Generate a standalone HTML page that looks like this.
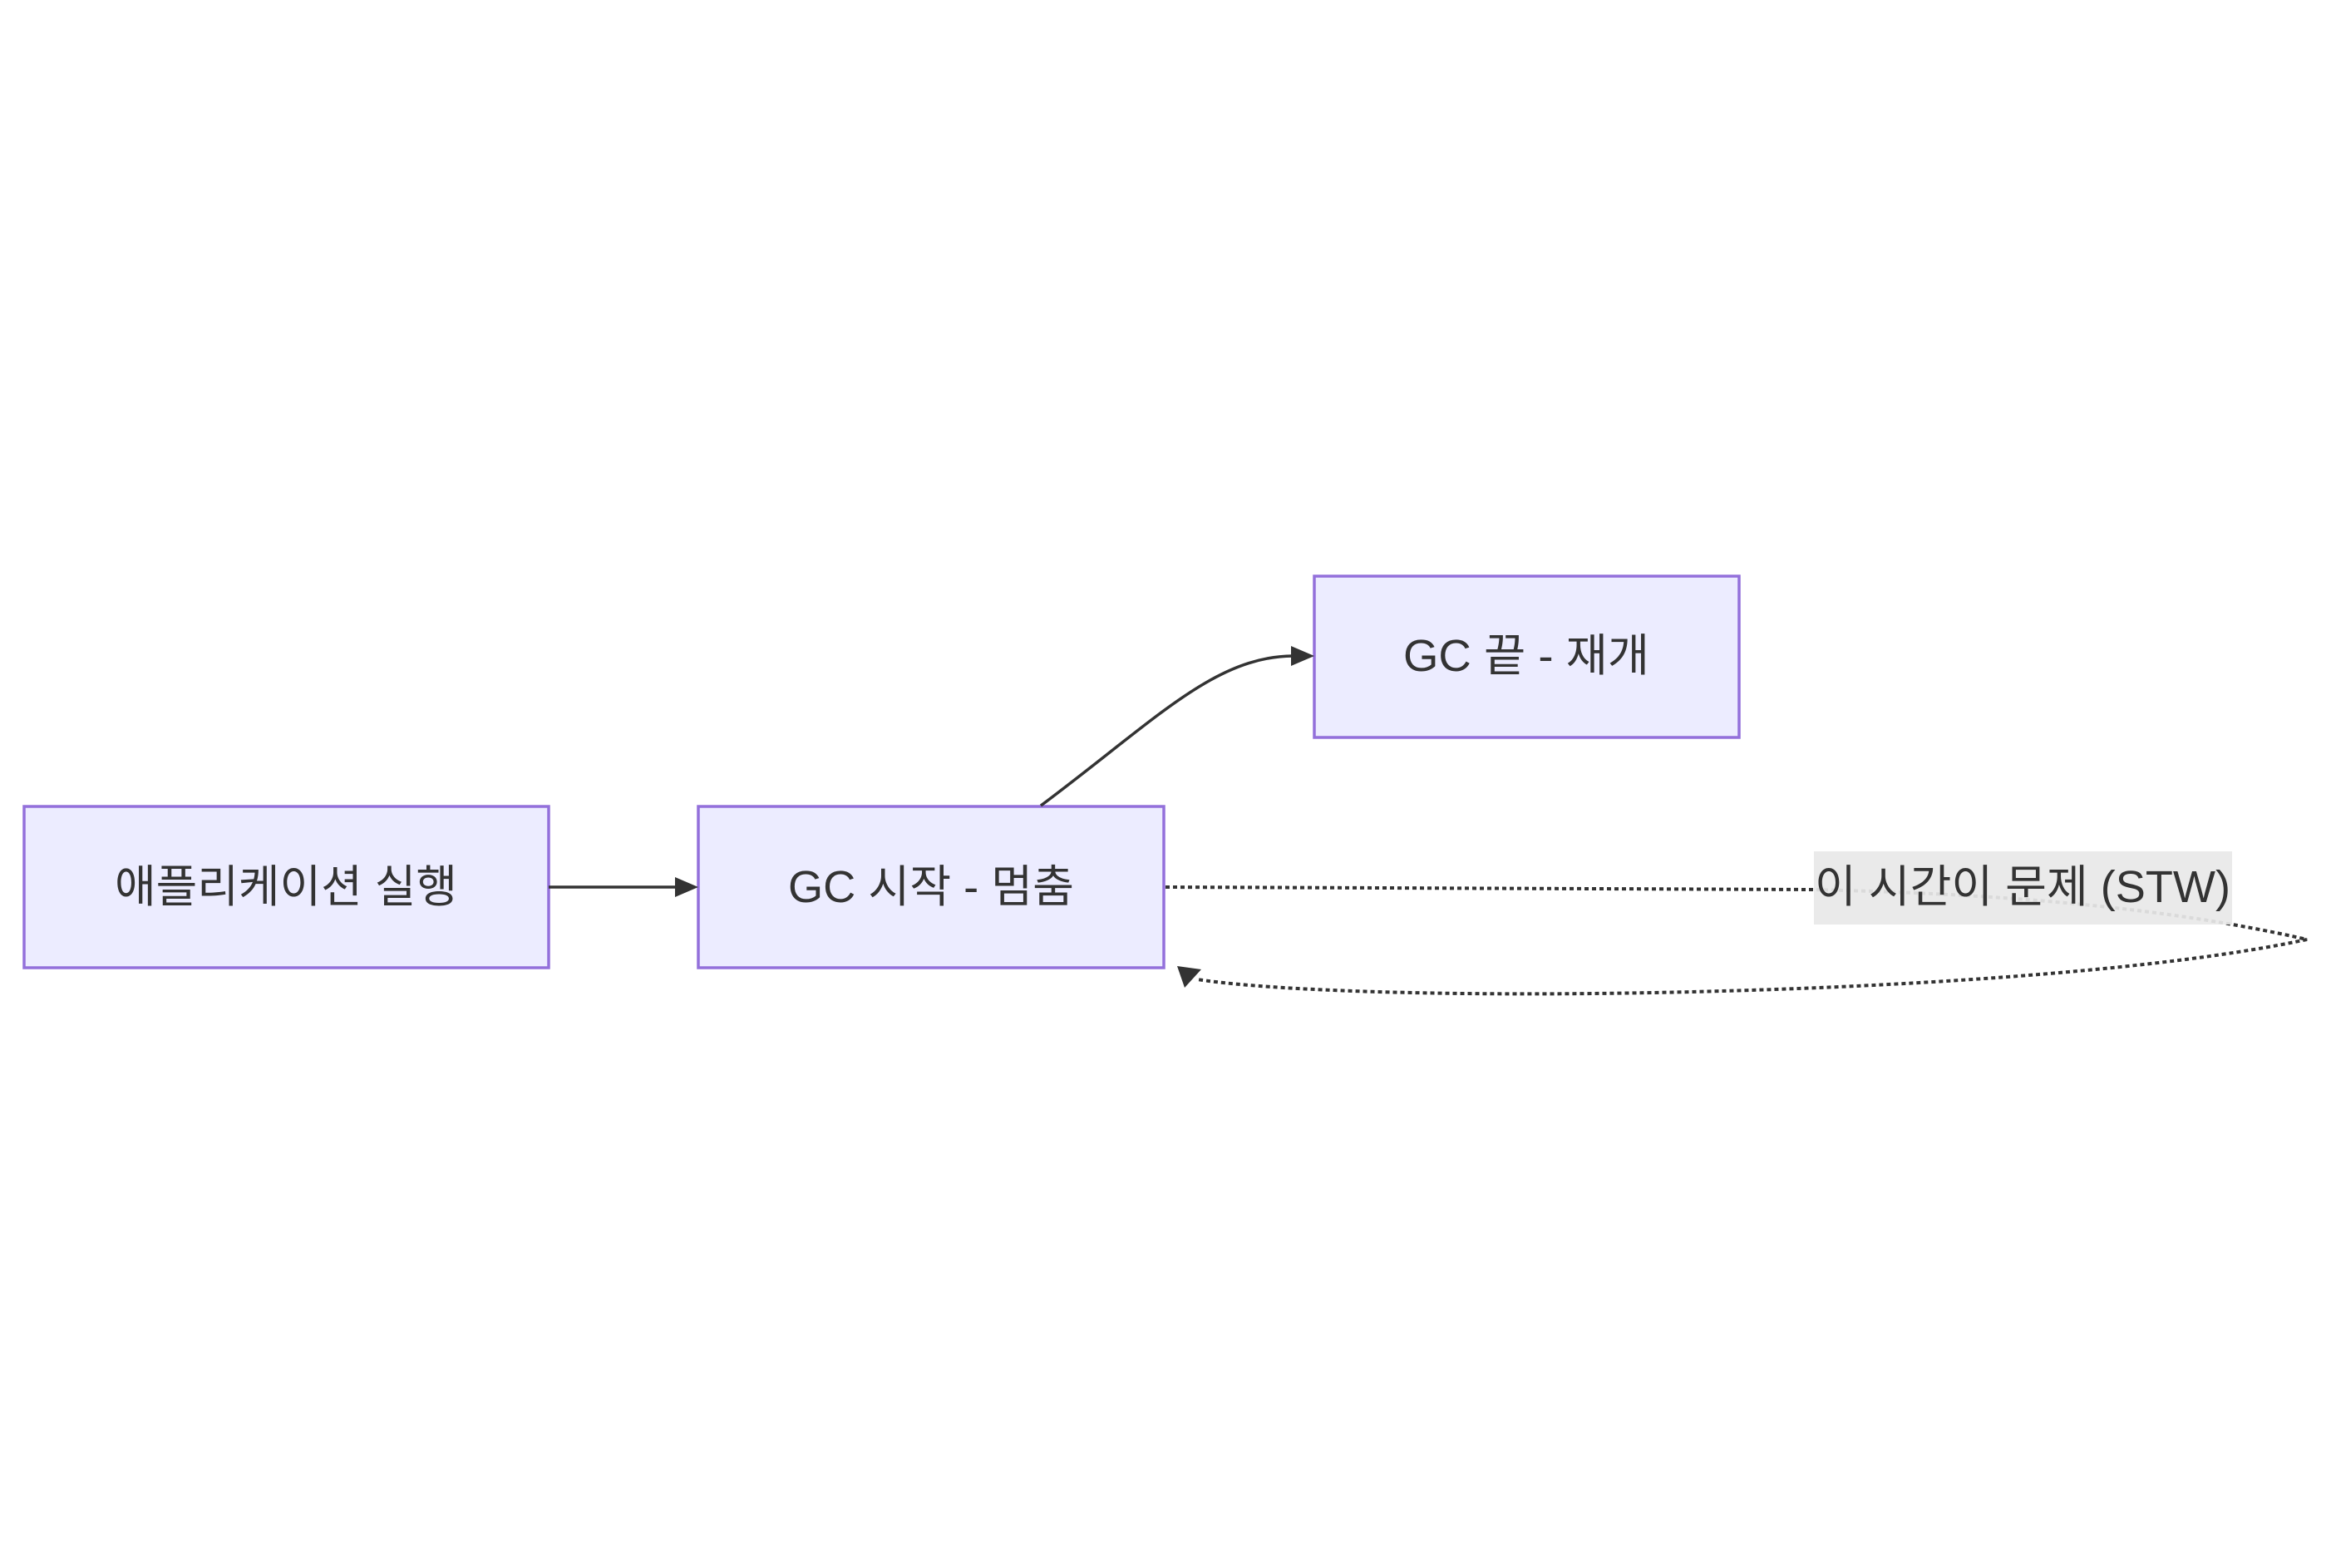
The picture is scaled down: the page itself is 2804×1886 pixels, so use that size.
<!DOCTYPE html>
<html><head><meta charset="utf-8"><style>
html,body{margin:0;padding:0;background:#fff;}
svg{display:block;}
text{font-family:"Liberation Sans","Noto Sans CJK KR",sans-serif;font-size:54px;fill:#333;}
</style></head><body>
<svg width="2804" height="1886" viewBox="0 0 2804 1886" xmlns="http://www.w3.org/2000/svg">
<rect x="29" y="970" width="631" height="194" fill="#ECECFF" stroke="#9370DB" stroke-width="3.5"/>
<rect x="840" y="970" width="560" height="194" fill="#ECECFF" stroke="#9370DB" stroke-width="3.5"/>
<rect x="1581" y="693" width="511" height="194" fill="#ECECFF" stroke="#9370DB" stroke-width="3.5"/>
<text x="344" y="1085" text-anchor="middle" textLength="412" lengthAdjust="spacingAndGlyphs">애플리케이션 실행</text>
<text x="1120" y="1085" text-anchor="middle" textLength="344" lengthAdjust="spacingAndGlyphs">GC 시작 - 멈춤</text>
<text x="1836" y="807" text-anchor="middle" textLength="296" lengthAdjust="spacingAndGlyphs">GC 끝 - 재개</text>
<line x1="660" y1="1067" x2="815" y2="1067" stroke="#333" stroke-width="3.5"/>
<polygon points="812,1055 840,1067 812,1079" fill="#333"/>
<path d="M1252,969 C1390,866 1460,790 1555,789" fill="none" stroke="#333" stroke-width="3.5"/>
<polygon points="1553,777 1581,789 1553,801" fill="#333"/>
<path d="M1402,1067 L2180,1070 C2400,1075 2600,1090 2775,1130 C2450,1200 1650,1210 1440,1178" fill="none" stroke="#333" stroke-width="4" stroke-dasharray="5,4"/>
<polygon points="1416,1162 1445,1166 1425,1188" fill="#333"/>
<rect x="2182" y="1024" width="503" height="88" fill="#e8e8e8" opacity="0.92"/>
<text x="2433" y="1085" text-anchor="middle" textLength="500" lengthAdjust="spacingAndGlyphs">이 시간이 문제 (STW)</text>
</svg>
</body></html>
